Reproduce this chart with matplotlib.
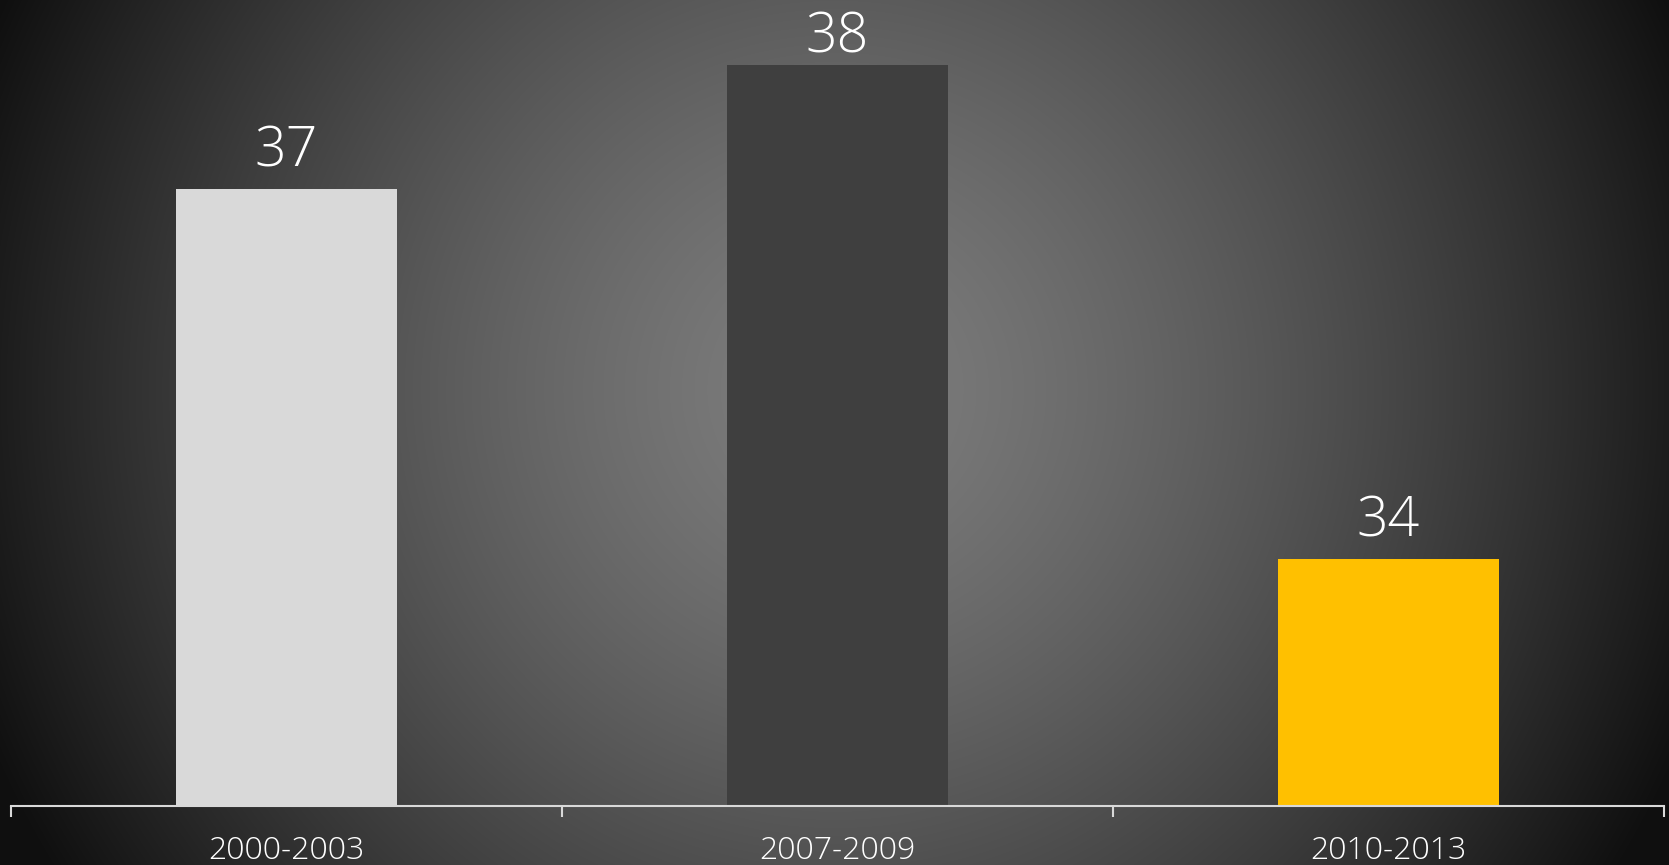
import numpy as np
import matplotlib
matplotlib.use("Agg")
import matplotlib.pyplot as plt

periods = ["2000-2003", "2007-2009", "2010-2013"]
values = [37, 38, 34]
bar_colors = ["#d9d9d9", "#3f3f3f", "#ffc000"]

W, H = 1669, 865
fig = plt.figure(figsize=(W / 100, H / 100), dpi=100)

# radial gradient background
bg = fig.add_axes([0, 0, 1, 1])
yy, xx = np.mgrid[0:H, 0:W]
r = np.sqrt((xx - W * 0.5) ** 2 + (yy - H * 0.45) ** 2) / (W * 0.55)
r = np.clip(r, 0, 1)
shade = 0.49 - (0.49 - 0.06) * r ** 1.4
bg.imshow(np.dstack([shade] * 3), aspect="auto", extent=[0, 1, 0, 1])
bg.set_axis_off()

ax = fig.add_axes([11 / W, (H - 806) / H, (1664 - 11) / W, 806 / H])
ax.patch.set_alpha(0)
x = np.arange(len(periods))
bars = ax.bar(x, values, width=0.4, color=bar_colors, zorder=2)

ax.set_xlim(-0.5, 2.5)
ax.set_ylim(32, 38.53)

# label for the tallest bar is squeezed in under the top edge
for xi, v in zip(x, values):
    off = 0 if v == max(values) else 7
    ax.annotate(str(v), (xi, v), xytext=(0, off), textcoords="offset points",
                ha="center", va="bottom", color="white", fontsize=40,
                family="Open Sans", fontweight=300)

for s in ["top", "right", "left"]:
    ax.spines[s].set_visible(False)
ax.spines["bottom"].set_color("#d9d9d9")
ax.spines["bottom"].set_linewidth(1.5)
ax.set_yticks([])

ax.set_xticks([-0.5, 0.5, 1.5, 2.5])
ax.set_xticklabels([])
ax.tick_params(axis="x", which="major", length=8, width=1.5, color="#d9d9d9")
ax.set_xticks(x, minor=True)
ax.set_xticklabels(periods, minor=True, color="white", fontsize=23,
                   family="Open Sans", fontweight=300)
ax.tick_params(axis="x", which="minor", length=0, pad=21)

fig.savefig("out.png", dpi=100)
